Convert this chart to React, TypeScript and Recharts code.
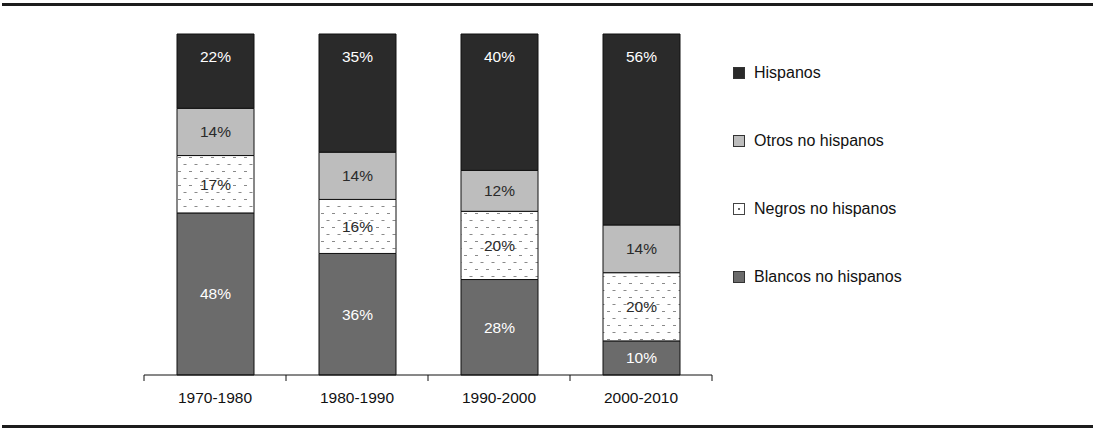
import React from 'react';
import { BarChart, Bar, XAxis, YAxis, Legend, LabelList } from 'recharts';

const periods = ['1970-1980', '1980-1990', '1990-2000', '2000-2010'];
const blancos = [48, 36, 28, 10];
const negros = [17, 16, 20, 20];
const otros = [14, 14, 12, 14];
const hispanos = [22, 35, 40, 56];

const data = periods.map((p, i) => ({
  period: p,
  blancos: blancos[i],
  negros: negros[i],
  otros: otros[i],
  hispanos: hispanos[i],
}));

// bottom to top in the stack
const series = [
  { key: 'blancos', name: 'Blancos no hispanos', fill: '#6b6b6b', text: '#ffffff' },
  { key: 'negros', name: 'Negros no hispanos', fill: 'url(#dashes)', text: '#2a2a2a' },
  { key: 'otros', name: 'Otros no hispanos', fill: '#bdbdbd', text: '#2a2a2a' },
  { key: 'hispanos', name: 'Hispanos', fill: '#2a2a2a', text: '#ffffff' },
];

const font = 'Arial, "Liberation Sans", sans-serif';

const PeriodTick = (props: any) => {
  const { x, y, payload, index } = props;
  const half = payload?.offset ?? 0;
  const last = index === periods.length - 1;
  return (
    <g>
      <line x1={x - half} x2={x - half} y1={y} y2={y + 6} stroke="#111" />
      {last && <line x1={x + half} x2={x + half} y1={y} y2={y + 6} stroke="#111" />}
      <text x={x} y={y + 22} textAnchor="middle" dominantBaseline="central" fill="#111" fontSize={15.5} fontFamily={font}>
        {payload.value}
      </text>
    </g>
  );
};

const LegendIcon = ({ k, fill }: { k: string; fill: string }) => {
  if (k === 'negros') {
    return (
      <svg width={12} height={12}>
        <rect x={0.5} y={0.5} width={11} height={11} fill="#fff" stroke="#444" />
        <rect x={5} y={5} width={2} height={2} fill="#666" />
      </svg>
    );
  }
  return (
    <svg width={12} height={12}>
      <rect x={0.5} y={0.5} width={11} height={11} fill={fill} stroke="#333" />
    </svg>
  );
};

const LegendBox = () => (
  <div style={{ fontFamily: font, fontSize: 16, color: '#111' }}>
    {[...series].reverse().map((s) => (
      <div key={s.key} style={{ display: 'flex', alignItems: 'center', height: 68 }}>
        <LegendIcon k={s.key} fill={s.fill} />
        <span style={{ marginLeft: 9 }}>{s.name}</span>
      </div>
    ))}
  </div>
);

export default function App() {
  return (
    <div style={{ position: 'relative', width: 1095, height: 430, background: '#fff' }}>
      <style>{`body{margin:0}`}</style>
      <div style={{ position: 'absolute', left: 2, top: 3, width: 1091, height: 3, background: '#1c1c1c' }} />
      <div style={{ position: 'absolute', left: 2, top: 425, width: 1091, height: 3, background: '#1c1c1c' }} />
      <BarChart
        width={1095}
        height={430}
        data={data}
        stackOffset="expand"
        barSize={77}
        margin={{ top: 34, right: 383, bottom: 25, left: 144 }}
      >
        <defs>
          <pattern id="dashes" width={11} height={14} patternUnits="userSpaceOnUse">
            <rect width={11} height={14} fill="#fff" />
            <line x1={2} x2={5} y1={3.5} y2={3.5} stroke="#8a8a8a" strokeWidth={1} />
            <line x1={7.5} x2={10.5} y1={10.5} y2={10.5} stroke="#8a8a8a" strokeWidth={1} />
          </pattern>
        </defs>
        <XAxis
          dataKey="period"
          height={30}
          tickLine={false}
          tickSize={0}
          tickMargin={0}
          axisLine={{ stroke: '#111' }}
          tick={<PeriodTick />}
          interval={0}
        />
        <YAxis hide />
        <Legend
          layout="vertical"
          align="center"
          verticalAlign="middle"
          content={<LegendBox />}
          wrapperStyle={{ left: 733, top: 39, width: 250 }}
        />
        {series.map((s) => (
          <Bar
            key={s.key}
            dataKey={s.key}
            name={s.name}
            stackId="a"
            fill={s.fill}
            stroke="#111"
            strokeWidth={1}
            isAnimationActive={false}
          >
            <LabelList
              dataKey={s.key}
              position={s.key === 'hispanos' ? 'insideTop' : 'center'}
              offset={s.key === 'hispanos' ? 17 : 5}
              formatter={(v: any) => `${v}%`}
              fill={s.text}
              fontSize={15.5}
              fontFamily={font}
            />
          </Bar>
        ))}
      </BarChart>
    </div>
  );
}
